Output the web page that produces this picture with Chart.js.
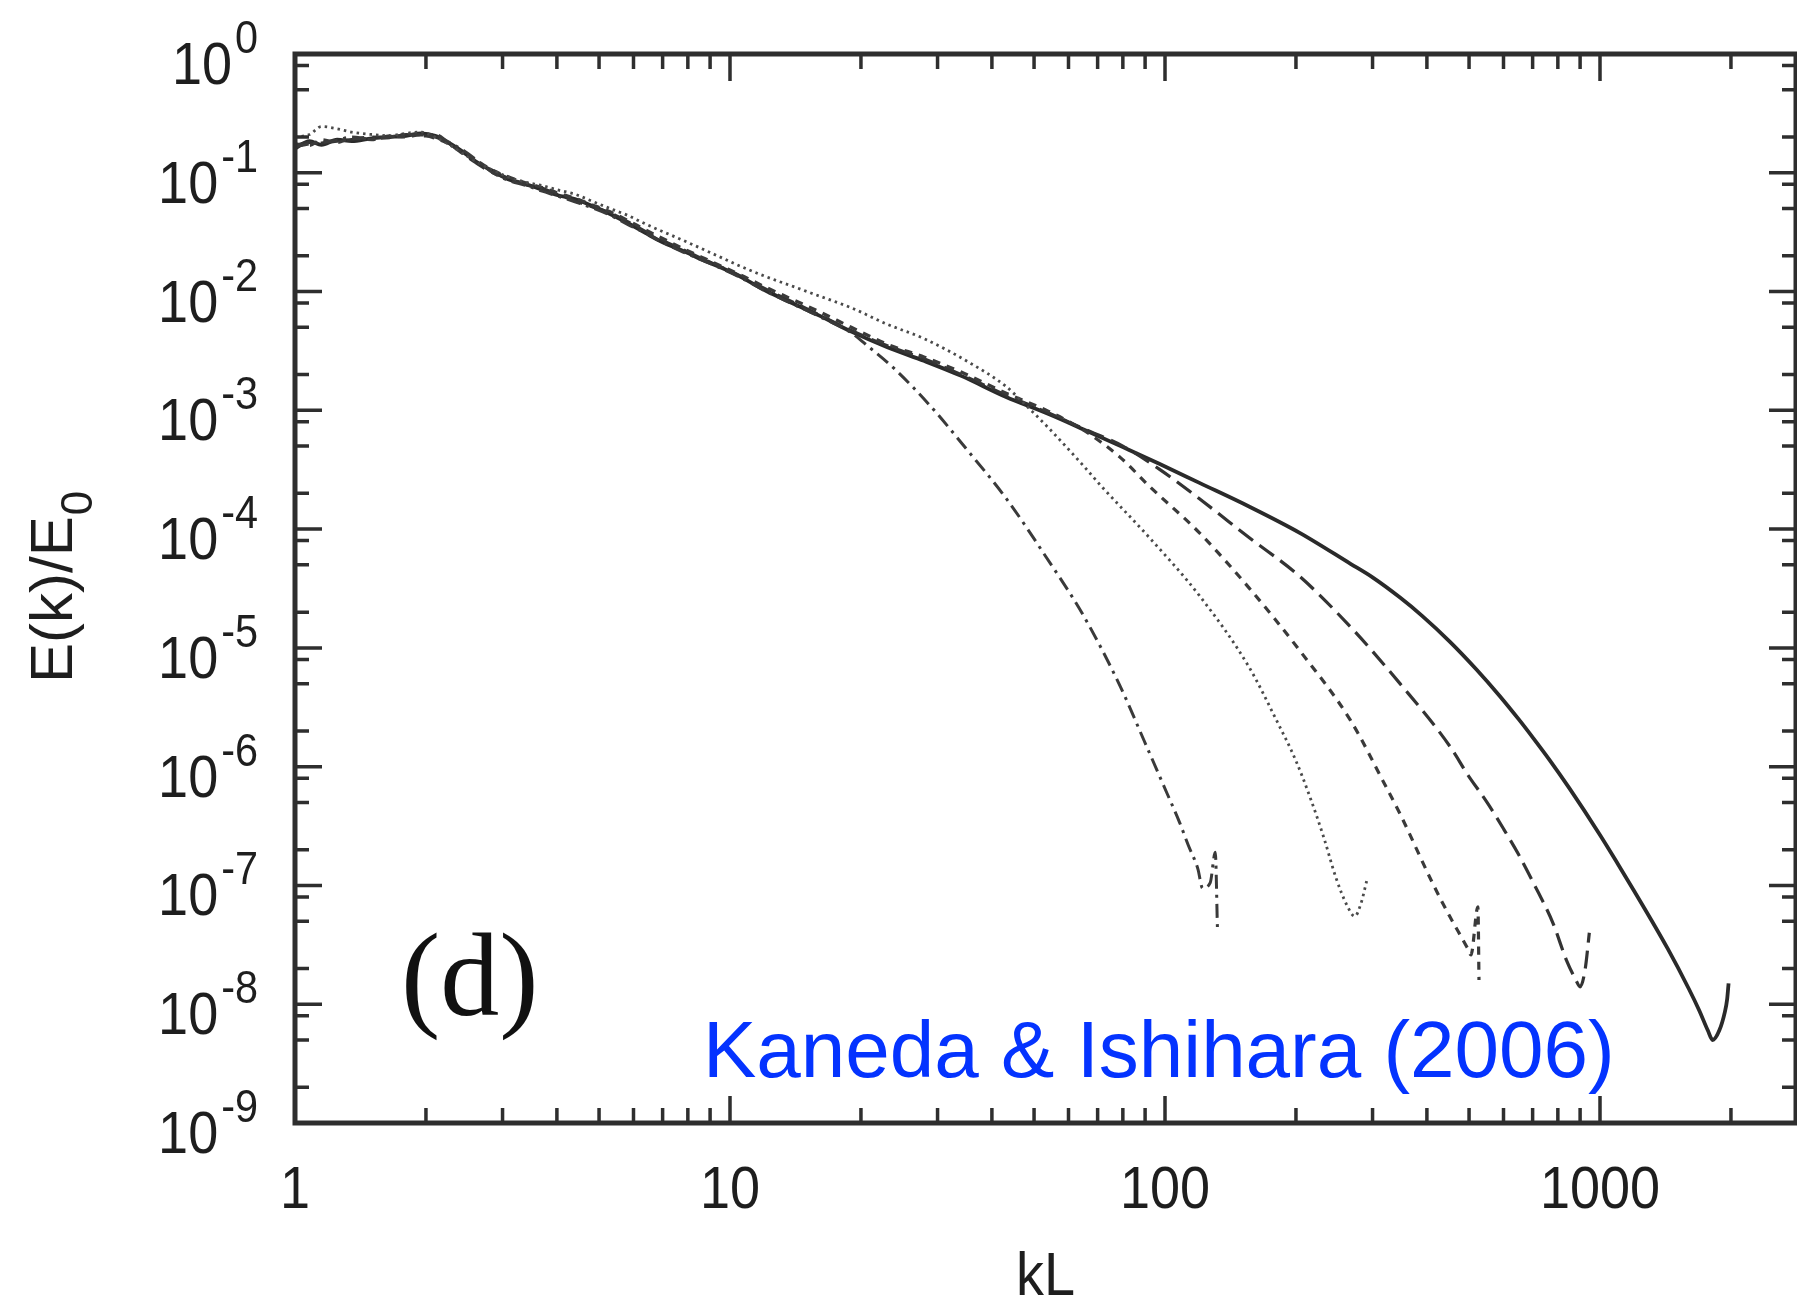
<!DOCTYPE html>
<html>
<head>
<meta charset="utf-8">
<script src="https://cdn.jsdelivr.net/npm/chart.js@4.4.1/dist/chart.umd.min.js"></script>
<style>
  body { margin: 0; background: #ffffff; }
  canvas { display: block; }
</style>
</head>
<body>
<canvas id="spectrumCanvas" width="1797" height="1303"></canvas>
<script>
// wavenumber kL shared by the low-k (forcing range) part of every run
let kLow = [1, 1.08, 1.15, 1.25, 1.35, 1.5, 1.65, 1.8, 1.95, 2.1, 2.25, 2.4, 2.6, 2.85, 3.1, 3.4, 3.7, 4.0, 4.4, 4.8, 5.3, 5.8, 6.4, 7.0, 7.8, 8.6, 9.5, 10.5, 12, 14, 16, 19];

// solid line (highest resolution run)
let kSolid = kLow.concat([23, 28, 34, 43, 54, 65, 80, 97, 120, 156, 204, 267, 300, 347, 390, 452, 520, 588, 650, 703, 766, 850, 1000, 1100, 1200, 1430, 1600, 1690, 1770, 1815, 1880, 1935, 1960, 1975]);
let eSolid = [0.16, 0.185, 0.172, 0.19, 0.185, 0.195, 0.2, 0.205, 0.215, 0.205, 0.18, 0.155, 0.125, 0.103, 0.088, 0.08, 0.072, 0.065, 0.06, 0.053, 0.045, 0.038, 0.031, 0.026, 0.022, 0.0186, 0.016, 0.0135, 0.0103, 0.0079, 0.0063, 0.0046,
  0.0034, 0.0026, 0.00195, 0.0013, 0.00093, 0.00069, 0.00049, 0.000355, 0.000245, 0.000155, 0.000093, 0.000051, 0.0000392, 0.0000265, 0.0000186, 0.00001125, 6.58e-6, 3.94e-6, 2.51e-6, 1.73e-6, 1.135e-6, 6.59e-7, 2.66e-7, 1.51e-7, 8.9e-8, 2.95e-8, 1.35e-8, 8.9e-9, 6.0e-9, 5.0e-9, 6.0e-9, 8.5e-9, 1.1e-8, 1.5e-8];

// long dashed line
let kLong = kLow.concat([23, 28, 34, 43, 54, 65, 80, 97, 120, 156, 204, 267, 347, 452, 495, 550, 600, 650, 703, 780, 837, 880, 900, 925, 945]);
let eLong = [0.17, 0.18, 0.178, 0.185, 0.19, 0.2, 0.198, 0.21, 0.205, 0.2, 0.178, 0.15, 0.122, 0.1, 0.09, 0.079, 0.074, 0.066, 0.058, 0.052, 0.046, 0.039, 0.032, 0.027, 0.0225, 0.019, 0.0162, 0.0137, 0.0106, 0.0081, 0.0064, 0.0047,
  0.0035, 0.0027, 0.002, 0.00135, 0.00095, 0.0007, 0.0005, 0.00032, 0.00018, 0.000085, 0.00004, 0.000015, 5.0e-6, 1.48e-6, 8.7e-7, 5.0e-7, 3.0e-7, 1.82e-7, 1.05e-7, 4.8e-8, 2.35e-8, 1.6e-8, 1.4e-8, 2.0e-8, 4.0e-8];

// short dashed line
let kShort = kLow.concat([23, 28, 34, 43, 54, 65, 79, 92, 120, 156, 204, 267, 322, 347, 412, 450, 495, 505, 524, 527]);
let eShort = [0.175, 0.17, 0.19, 0.18, 0.195, 0.19, 0.205, 0.2, 0.21, 0.195, 0.176, 0.152, 0.128, 0.105, 0.092, 0.082, 0.075, 0.068, 0.061, 0.054, 0.047, 0.04, 0.033, 0.028, 0.023, 0.0195, 0.0165, 0.014, 0.011, 0.0085, 0.0068, 0.005,
  0.0036, 0.0028, 0.0021, 0.0014, 0.00098, 0.00068, 0.0004, 0.00023, 0.000093, 0.000032, 9.5e-6, 2.45e-6, 6.8e-7, 4.0e-7, 1.05e-7, 5.6e-8, 3.0e-8, 2.6e-8, 6.6e-8, 1.6e-8];

// dotted line
let kDot = kLow.concat([23, 28, 35, 43, 47, 54, 65, 71, 92, 120, 156, 180, 200, 216, 232, 247, 262, 273, 282, 291]);
let eDot = [0.2, 0.21, 0.245, 0.235, 0.22, 0.21, 0.205, 0.215, 0.22, 0.2, 0.175, 0.15, 0.125, 0.105, 0.092, 0.083, 0.078, 0.072, 0.066, 0.058, 0.05, 0.044, 0.037, 0.032, 0.027, 0.023, 0.0195, 0.0165, 0.0135, 0.011, 0.0092, 0.0073,
  0.0053, 0.004, 0.0026, 0.0016, 0.00118, 0.00071, 0.00034, 0.000235, 0.000085, 0.0000275, 6.9e-6, 2.5e-6, 1.12e-6, 5.4e-7, 2.5e-7, 1.17e-7, 6.8e-8, 5.5e-8, 7.0e-8, 1.1e-7];

// dash-dot line (lowest resolution run)
let kDashDot = kLow.concat([20.5, 24, 28.8, 35, 43.3, 53, 65, 79, 89.5, 101, 108, 113, 119, 122, 127, 130.5, 132]);
let eDashDot = [0.165, 0.175, 0.18, 0.188, 0.2, 0.192, 0.2, 0.21, 0.208, 0.21, 0.182, 0.16, 0.13, 0.1, 0.086, 0.078, 0.07, 0.064, 0.057, 0.051, 0.044, 0.037, 0.031, 0.026, 0.0215, 0.0185, 0.0158, 0.0133, 0.0102, 0.0078, 0.0062, 0.0045,
  0.0036, 0.0022, 0.0011, 0.00047, 0.000178, 0.00006, 0.0000186, 4.7e-6, 1.66e-6, 6.0e-7, 3.4e-7, 2.2e-7, 1.38e-7, 9.5e-8, 1.05e-7, 1.9e-7, 4.3e-8];

// axis ticks
let xTickValues = [1, 10, 100, 1000];
let xTickLabels = ['1', '10', '100', '1000'];
let yTickExponents = [0, -1, -2, -3, -4, -5, -6, -7, -8, -9];

function toPoints(ks, es) {
    return ks.map((k, i) => ({x: k, y: es[i]}));
}

function drawText(ctx, str, x, y, font, align, sx) {
    ctx.save();
    ctx.translate(x, y);
    ctx.scale(sx, 1);
    ctx.font = font;
    ctx.textAlign = align;
    ctx.textBaseline = 'alphabetic';
    ctx.fillText(str, 0, 0);
    ctx.restore();
}

// frame, inward ticks, superscript labels and annotations
let framePlugin = {
    id: 'framePlugin',
    beforeDraw(chart) {
        let ctx = chart.ctx;
        ctx.save();
        ctx.fillStyle = '#ffffff';
        ctx.fillRect(0, 0, chart.width, chart.height);
        ctx.restore();
    },
    afterDatasetsDraw(chart) {
        let ctx = chart.ctx;
        let area = chart.chartArea;
        let xs = chart.scales.x;
        let ys = chart.scales.y;
        ctx.save();
        ctx.strokeStyle = '#2e2e2e';
        ctx.fillStyle = '#1e1e1e';

        // ticks
        ctx.lineWidth = 3.5;
        ctx.beginPath();
        for (let d = 0; d <= 3; d++) {
            for (let m = 1; m <= 9; m++) {
                let v = m * Math.pow(10, d);
                if (v > xs.max) continue;
                let px = xs.getPixelForValue(v);
                let len = m === 1 ? 27 : 15;
                ctx.moveTo(px, area.bottom);
                ctx.lineTo(px, area.bottom - len);
                ctx.moveTo(px, area.top);
                ctx.lineTo(px, area.top + len);
            }
        }
        for (let d = -9; d <= 0; d++) {
            [1, 2, 5, 8].forEach(m => {
                let v = m * Math.pow(10, d);
                if (v > 1) return;
                let py = ys.getPixelForValue(v);
                let len = m === 1 ? 27 : 14;
                ctx.moveTo(area.left, py);
                ctx.lineTo(area.left + len, py);
                ctx.moveTo(area.right, py);
                ctx.lineTo(area.right - len, py);
            });
        }
        ctx.stroke();

        // frame
        ctx.lineWidth = 5;
        ctx.strokeRect(area.left, area.top, area.right - area.left, area.bottom - area.top);

        // x tick labels
        xTickValues.forEach((v, i) => {
            let px = xs.getPixelForValue(v);
            drawText(ctx, xTickLabels[i], px, area.bottom + 85, '60px "Liberation Sans", Arial, sans-serif', 'center', 0.9);
        });

        // y tick labels 10^n
        yTickExponents.forEach(n => {
            let py = ys.getPixelForValue(Math.pow(10, n));
            let right = area.left - 37;
            ctx.font = '46px "Liberation Sans", Arial, sans-serif';
            let w = ctx.measureText(String(n)).width * 0.9;
            drawText(ctx, String(n), right, py - 1, '46px "Liberation Sans", Arial, sans-serif', 'right', 0.9);
            drawText(ctx, '10', right - w - 3, py + 30, '60px "Liberation Sans", Arial, sans-serif', 'right', 0.9);
        });

        // axis titles
        let midX = (area.left + area.right) / 2;
        drawText(ctx, 'kL', midX, area.bottom + 172, '62px "Liberation Sans", Arial, sans-serif', 'center', 0.9);

        ctx.save();
        ctx.translate(72, 683);
        ctx.rotate(-Math.PI / 2);
        ctx.font = '60px "Liberation Sans", Arial, sans-serif';
        ctx.textAlign = 'left';
        ctx.fillText('E(k)/E', 0, 0);
        let tw = ctx.measureText('E(k)/E').width;
        ctx.font = '44px "Liberation Sans", Arial, sans-serif';
        ctx.fillText('0', tw + 1, 20);
        ctx.restore();

        // panel label and citation
        ctx.fillStyle = '#111111';
        ctx.font = '118px "Liberation Serif", "Times New Roman", serif';
        ctx.textAlign = 'left';
        ctx.fillText('(d)', 401, 1015);

        ctx.fillStyle = '#0433ff';
        ctx.font = '80px "Liberation Sans", Arial, sans-serif';
        ctx.fillText('Kaneda & Ishihara (2006)', 703, 1077);
        ctx.restore();
    }
};

let spectrumCtx = document.getElementById('spectrumCanvas').getContext('2d');

let spectrumChart = new Chart(spectrumCtx, {
    type: 'scatter',
    data: {
        datasets: [{
            label: 'dash-dot',
            data: toPoints(kDashDot, eDashDot),
            borderColor: '#3a3a3a',
            borderWidth: 3,
            borderDash: [14, 6, 3, 6]
        }, {
            label: 'dotted',
            data: toPoints(kDot, eDot),
            borderColor: '#4a4a4a',
            borderWidth: 2.8,
            borderDash: [2.5, 4]
        }, {
            label: 'short dashed',
            data: toPoints(kShort, eShort),
            borderColor: '#3a3a3a',
            borderWidth: 3.2,
            borderDash: [8, 7]
        }, {
            label: 'long dashed',
            data: toPoints(kLong, eLong),
            borderColor: '#333333',
            borderWidth: 3.2,
            borderDash: [18, 8]
        }, {
            label: 'solid',
            data: toPoints(kSolid, eSolid),
            borderColor: '#2a2a2a',
            borderWidth: 3.8
        }]
    },
    options: {
        responsive: false,
        animation: false,
        devicePixelRatio: 1,
        showLine: true,
        elements: {
            point: { radius: 0 },
            line: { cubicInterpolationMode: 'monotone', fill: false }
        },
        layout: {
            padding: { left: 295, top: 54, right: 1, bottom: 180 }
        },
        scales: {
            x: {
                type: 'logarithmic',
                min: 1,
                max: 2822,
                display: false
            },
            y: {
                type: 'logarithmic',
                min: 1e-9,
                max: 1,
                display: false
            }
        },
        plugins: {
            legend: { display: false },
            tooltip: { enabled: false }
        }
    },
    plugins: [framePlugin]
});
</script>
</body>
</html>
